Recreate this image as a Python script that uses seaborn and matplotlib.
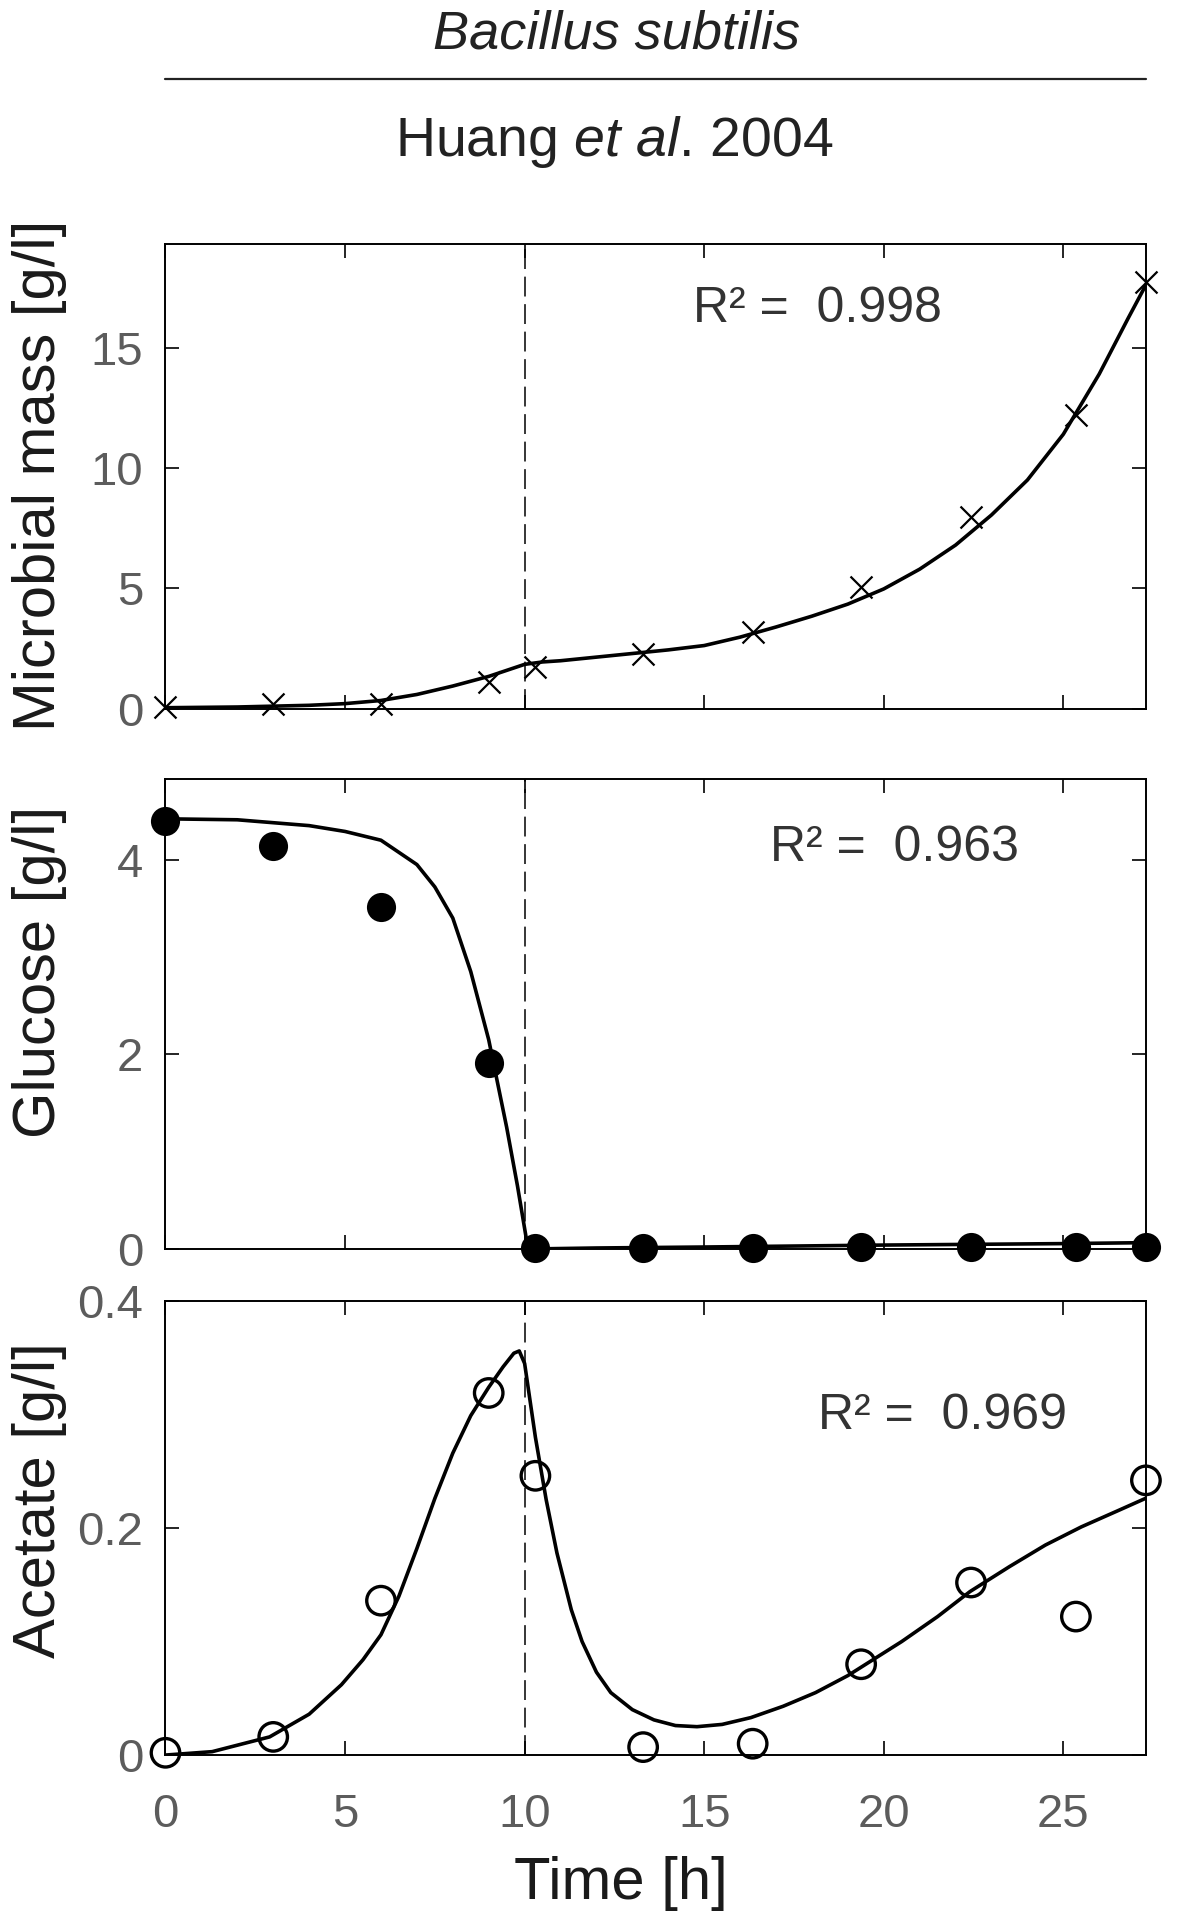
import matplotlib
matplotlib.use("Agg")
import matplotlib.pyplot as plt
from matplotlib import font_manager
from matplotlib.lines import Line2D
from matplotlib.ticker import FuncFormatter
import seaborn as sns
import pandas as pd

# ---------------- data ----------------
t_obs = [0, 3, 6, 9, 10.3, 13.3, 16.35, 19.37, 22.43, 25.35, 27.3]
biomass_obs = [0.1, 0.2, 0.2, 1.1, 1.75, 2.3, 3.2, 5.05, 7.95, 12.2, 17.7]
glucose_obs = [4.40, 4.14, 3.51, 1.91, 0.01, 0.01, 0.01, 0.02, 0.02, 0.02, 0.02]
acetate_obs = [0.002, 0.016, 0.136, 0.319, 0.246, 0.007, 0.010, 0.080, 0.152, 0.122, 0.242]

t_bio = [0, 2, 4, 5, 6, 7, 8, 9, 9.7, 10, 10.5, 11, 12, 13, 14, 15, 16, 17, 18,
         19, 20, 21, 22, 23, 24, 25, 26, 26.8, 27.3]
biomass_fit = [0.05, 0.08, 0.15, 0.22, 0.35, 0.6, 0.95, 1.35, 1.7, 1.85, 1.95, 2.0,
               2.15, 2.3, 2.45, 2.63, 2.98, 3.40, 3.85, 4.35, 4.98, 5.8, 6.8, 8.05, 9.5,
               11.4, 13.9, 16.2, 17.6]

t_glc = [0, 2, 4, 5, 6, 7, 7.5, 8, 8.5, 9, 9.5, 9.8, 10.05, 10.2, 12, 15, 20, 25, 27.35]
glucose_fit = [4.42, 4.41, 4.35, 4.29, 4.20, 3.95, 3.72, 3.40, 2.85, 2.15, 1.25, 0.65,
               0.10, 0.0, 0.01, 0.02, 0.04, 0.055, 0.065]

t_ace = [0, 1.3, 2.9, 4.0, 4.9, 5.5, 6.0, 6.5, 7.0, 7.5, 8.0, 8.5, 9.0, 9.4, 9.7,
         9.85, 10.0, 10.3, 10.6, 10.9, 11.3, 11.6, 12.0, 12.4, 13.0, 13.6, 14.2,
         14.8, 15.5, 16.3, 17.2, 18.1, 19.0, 19.4, 20.5, 21.5, 22.4, 23.5, 24.5,
         25.5, 26.5, 27.35]
acetate_fit = [0.0, 0.003, 0.016, 0.036, 0.062, 0.084, 0.106, 0.140, 0.182, 0.226,
               0.266, 0.299, 0.324, 0.342, 0.354, 0.356, 0.345, 0.280, 0.225, 0.178,
               0.128, 0.100, 0.073, 0.055, 0.040, 0.031, 0.026, 0.025, 0.027, 0.033,
               0.043, 0.055, 0.070, 0.078, 0.100, 0.122, 0.144, 0.166, 0.185, 0.201,
               0.215, 0.227]

r2_labels = ["R\u00b2 =  0.998", "R\u00b2 =  0.963", "R\u00b2 =  0.969"]
ylabels = ["Microbial mass [g/l]", "Glucose [g/l]", "Acetate [g/l]"]
yticks = [[0, 5, 10, 15], [0, 2, 4], [0, 0.2, 0.4]]
xticks = [0, 5, 10, 15, 20, 25]
ylims = [(0, 19.3), (0, 4.83), (0, 0.4)]
xlim = (0, 27.3)
switch_time = 10

# ---------------- style ----------------
sns.set_theme(style="ticks")
names = {f.name for f in font_manager.fontManager.ttflist}
fam = ["Liberation Sans", "DejaVu Sans"]
plt.rcParams["font.family"] = fam
plt.rcParams["mathtext.fontset"] = "custom"
plt.rcParams["mathtext.rm"] = "Liberation Sans"
plt.rcParams["mathtext.it"] = "Liberation Sans:italic"
plt.rcParams["axes.linewidth"] = 1.4
plt.rcParams["axes.edgecolor"] = "black"

if "Liberation Sans Narrow" in names:
    tick_family = ["Liberation Sans Narrow", "Liberation Sans"]
    tick_size = 37
else:
    tick_family = fam
    tick_size = 34

fig = plt.figure(figsize=(11.77, 19.28), dpi=100)
left, width = 0.1406, 0.833
rects = [(left, 0.6323, width, 0.2412),
         (left, 0.3522, width, 0.2438),
         (left, 0.0897, width, 0.2355)]
axes = [fig.add_axes(r) for r in rects]

df_obs = pd.DataFrame({"t": t_obs, "bio": biomass_obs, "glc": glucose_obs, "ace": acetate_obs})
df_bio = pd.DataFrame({"t": t_bio, "y": biomass_fit})
df_glc = pd.DataFrame({"t": t_glc, "y": glucose_fit})
df_ace = pd.DataFrame({"t": t_ace, "y": acetate_fit})

line_kw = dict(color="black", linewidth=2.6, sort=False, estimator=None)

# top: biomass
ax = axes[0]
sns.lineplot(data=df_bio, x="t", y="y", ax=ax, **line_kw)
sns.scatterplot(data=df_obs, x="t", y="bio", ax=ax, marker="x", s=250,
                color="black", linewidth=1.6, clip_on=False, zorder=4)

# middle: glucose
ax = axes[1]
sns.lineplot(data=df_glc, x="t", y="y", ax=ax, **line_kw)
sns.scatterplot(data=df_obs, x="t", y="glc", ax=ax, marker="o", s=440,
                color="black", edgecolor="black", linewidth=0, clip_on=False, zorder=4)

# bottom: acetate
ax = axes[2]
sns.lineplot(data=df_ace, x="t", y="y", ax=ax, **line_kw)
sns.scatterplot(data=df_obs, x="t", y="ace", ax=ax, marker="o", s=420,
                color="black", linewidth=2.4, clip_on=False, zorder=4)
coll = ax.collections[-1]
coll.set_facecolor("none")
coll.set_edgecolor("black")

r2_pos = [(0.7915, 0.86), (0.871, 0.853), (0.919, 0.747)]
ylabel_y = [0.503, 0.59, 0.562]
for i, ax in enumerate(axes):
    ax.axvline(switch_time, color="black", linewidth=1.1, linestyle=(0, (13, 5)), zorder=1)
    ax.set_xlim(*xlim)
    ax.set_ylim(*ylims[i])
    ax.set_xticks(xticks)
    ax.set_yticks(yticks[i])
    ax.yaxis.set_major_formatter(FuncFormatter(lambda v, p: "%g" % v))
    ax.tick_params(direction="in", length=10, width=1.2, top=True, right=True,
                   labelsize=tick_size, labelcolor="#5c5c5c", color="black")
    ax.tick_params(axis="y", pad=16)
    ax.tick_params(axis="x", pad=27)
    for lbl in ax.get_xticklabels() + ax.get_yticklabels():
        lbl.set_family(tick_family)
    for s in ax.spines.values():
        s.set_visible(True)
        s.set_linewidth(1.4)
    ax.set_ylabel(ylabels[i], fontsize=43, color="#1a1a1a")
    ax.yaxis.set_label_coords(-0.100, ylabel_y[i])
    ax.text(r2_pos[i][0], r2_pos[i][1], r2_labels[i], transform=ax.transAxes,
            ha="right", va="center", fontsize=36, color="#333333")
    if i < 2:
        ax.set_xlabel("")
        ax.tick_params(axis="x", labelbottom=False)
    else:
        ax.set_xlabel("Time [h]", fontsize=43, color="#1a1a1a")
        ax.xaxis.set_label_coords(0.464, -0.222)

# header
fig.text(0.524, 0.9746, "Bacillus subtilis", ha="center", va="baseline",
         fontsize=39, style="italic", color="#222222")
fig.text(0.522, 0.919, "Huang $\\mathit{et\\ al}$. 2004", ha="center", va="baseline",
         fontsize=40, color="#222222")
fig.add_artist(Line2D([left, left + width], [0.959, 0.959], transform=fig.transFigure,
                      color="#222222", linewidth=1.6))

fig.savefig("out.png", dpi=100)
